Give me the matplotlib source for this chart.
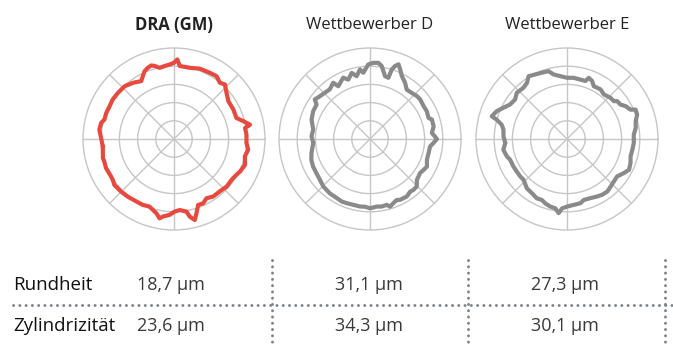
import matplotlib
matplotlib.use("Agg")
import matplotlib.pyplot as plt
import numpy as np

plt.rcParams['font.family'] = ['Open Sans', 'DejaVu Sans']

W, H = 673, 344

# roundness profiles: angle (deg, 0 = east, ccw) and radius (outer ring = 272)
dra_ang = [-174.1, -165, -162.1, -156.8, -149.2, -146.3, -142.4, -135.2, -128.7, -121.1,
           -115.3, -109.9, -103.4, -100.3, -98.1, -93.3, -89.5, -85.4, -80.3, -78.5,
           -75.6, -73.2, -69.9, -65.6, -61.3, -55.8, -48.9, -42.1, -35.3, -29.8,
           -26.2, -20, -13.8, -8.2, -3.2, 3.4, 8.8, 10.7, 14.4, 18.6,
           26.4, 34.9, 41.3, 47, 50.8, 56, 61.6, 69.9, 77.6, 85.5,
           87.6, 90, 93.3, 97.3, 101.4, 104.9, 107.2, 110.1, 113.4, 116.3,
           119.5, 126.2, 133.1, 140.6, 147.2, 153, 159, 164.4, 167.6, 172.8, 179.2]
dra_r = [214, 220, 219, 221, 219, 220, 225, 223, 221, 218,
         218, 215, 228, 241, 234, 227, 217, 213, 220, 237,
         250, 232, 210, 211, 202, 208, 208, 212, 211, 215,
         220, 226, 218, 224, 217, 217, 215, 231, 214, 197,
         198, 198, 209, 223, 217, 227, 225, 224, 218, 219,
         238, 228, 223, 220, 217, 226, 230, 227, 221, 210,
         199, 208, 216, 217, 218, 216, 217, 216, 223, 225, 218]

d_ang = [-176, -166.5, -160.5, -154.2, -147.5, -140.9, -134.6, -126.5, -121.4, -114.4,
         -110, -104.2, -98.4, -94.2, -90, -84.3, -80.2, -75.8, -73.5, -70,
         -66.3, -63.7, -60.5, -57.4, -52.6, -49.5, -45.4, -41.1, -34.2, -29.9,
         -25.8, -20, -13.5, -7, -3.6, 0, 5.6, 11.3, 17.4, 19.8,
         26, 31.5, 38.2, 42.4, 47.8, 53.4, 58, 63.2, 66.6, 69.1,
         71, 72.6, 73.3, 76.5, 80.9, 83.7, 87.5, 91.3, 95.8, 98.2,
         102, 105.5, 110.1, 113.6, 121, 123.2, 129, 139.5, 144.4, 147.2,
         153.9, 161.7, 170.6, 177.4]
d_r = [170, 180, 186, 189, 190, 193, 199, 202, 202, 205,
       204, 203, 204, 203, 207, 203, 205, 203, 211, 204,
       199, 203, 203, 204, 198, 200, 199, 186, 181, 185,
       189, 181, 180, 181, 190, 200, 186, 194, 194, 186,
       189, 188, 191, 190, 186, 184, 198, 211, 227, 239,
       231, 218, 191, 193, 221, 229, 228, 223, 199, 210,
       192, 205, 189, 200, 184, 201, 191, 197, 203, 190,
       189, 184, 172, 175]

e_ang = [-176.3, -170.4, -163.9, -160, -152.9, -147.1, -141.3, -136.8, -129.2, -122.9,
         -117, -112.4, -108.7, -103.9, -99.6, -96.4, -94.1, -90, -84.2, -78.2,
         -74.6, -68.4, -62.4, -57.8, -52.6, -47.5, -42.2, -36.7, -31, -26.4,
         -20.8, -15.3, -9.3, -3.4, 3.7, 9.1, 14.5, 19.2, 23.2, 24.8,
         29.2, 32.8, 37, 38.9, 43.4, 50.4, 56, 63.1, 66.6, 70.4,
         72.4, 77.3, 83.8, 90, 96.1, 101.7, 105.2, 110.7, 116.2, 121.5,
         125.5, 130.4, 137.4, 142.7, 148.8, 153.9, 158.4, 163.2, 164.6, 167.6,
         171.6, 177.6]
e_r = [185, 193, 187, 181, 180, 179, 179, 178, 190, 193,
       199, 197, 203, 208, 210, 223, 208, 202, 198, 196,
       189, 190, 194, 197, 198, 193, 189, 187, 198, 207,
       203, 197, 198, 200, 200, 208, 212, 222, 223, 209,
       201, 190, 188, 180, 179, 173, 179, 177, 189, 194,
       182, 182, 184, 183, 189, 197, 210, 212, 215, 220,
       206, 201, 204, 195, 199, 212, 226, 235, 218, 200,
       192, 190]

titles = ["DRA (GM)", "Wettbewerber D", "Wettbewerber E"]
profiles = [(dra_ang, dra_r), (d_ang, d_r), (e_ang, e_r)]
colors = ["#e8493f", "#8a8a8a", "#8a8a8a"]

row_labels = ["Rundheit", "Zylindrizität"]
rundheit = ["18,7 µm", "31,1 µm", "27,3 µm"]
zylindrizitaet = ["23,6 µm", "34,3 µm", "30,1 µm"]

fig = plt.figure(figsize=(W / 100, H / 100), dpi=100)

centers = [174, 370, 567]
cy = 139
R = 91
grid_c = "#c6c6c6"
rmax = 272

for i, (ang, r) in enumerate(profiles):
    cx = centers[i]
    ax = fig.add_axes([(cx - R) / W, (H - cy - R) / H, 2 * R / W, 2 * R / H],
                      projection="polar")
    th = np.deg2rad(np.array(ang + [ang[0]]))
    rr = np.array(r + [r[0]])
    ax.plot(th, rr, color=colors[i], lw=3.0, solid_joinstyle="round",
            solid_capstyle="round", zorder=3)
    ax.set_ylim(0, rmax)
    ax.set_rgrids([rmax / 5 * k for k in range(1, 5)], labels=[])
    ax.set_thetagrids(range(0, 360, 45), labels=[])
    ax.grid(True, color=grid_c, lw=1.0)
    ax.spines["polar"].set_color(grid_c)
    ax.spines["polar"].set_linewidth(1.0)
    ax.set_facecolor("none")
    ax.tick_params(length=0)
    fig.text(cx / W, 1 - 25 / H, titles[i], ha="center", va="center",
             fontsize=12, color="#222222",
             fontweight="bold" if i == 0 else "normal")

# table
tab = fig.add_axes([0, 0, 1, 1])
tab.set_xlim(0, W)
tab.set_ylim(H, 0)
tab.axis("off")
tab.set_zorder(-1)

dot_c = "#7d828a"
dot_style = dict(color=dot_c, lw=2.1, linestyle=(0, (0.05, 2.1)),
                 dash_capstyle="round")
tab.plot([13, 673], [305, 305], **dot_style)
for x in [272, 468, 665]:
    tab.plot([x, x], [260, 344], **dot_style)

row_y = [285, 326]
for j, lab in enumerate(row_labels):
    tab.text(13, row_y[j], lab, ha="left", va="center", fontsize=13.5,
             color="#111111")
for j, vals in enumerate([rundheit, zylindrizitaet]):
    tab.text(137, row_y[j], vals[0], ha="left", va="center", fontsize=13,
             color="#3a3a3a")
    tab.text(369, row_y[j], vals[1], ha="center", va="center", fontsize=13,
             color="#3a3a3a")
    tab.text(565, row_y[j], vals[2], ha="center", va="center", fontsize=13,
             color="#3a3a3a")

fig.savefig("out.png", dpi=100)
